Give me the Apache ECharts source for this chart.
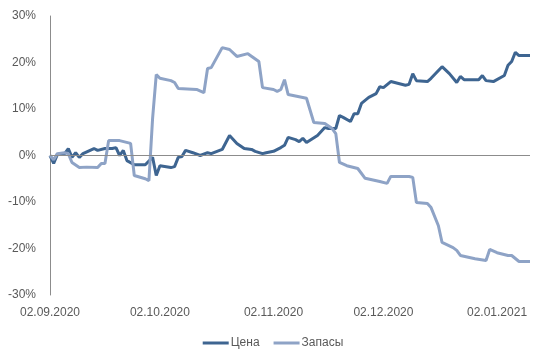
<!DOCTYPE html>
<html>
<head>
<meta charset="utf-8">
<script src="https://cdn.jsdelivr.net/npm/echarts@6/dist/echarts.min.js"></script>
<style>
html,body{margin:0;padding:0;background:#fff;}
#chart{width:546px;height:363px;}
</style>
</head>
<body>
<div id="chart"></div>
<script>
const startDate = '2020-09-02';
const endDate = '2021-01-11';
const yTicks = [-30, -20, -10, 0, 10, 20, 30];
const seriesNames = ['Цена', 'Запасы'];

const priceDates = ['2020-09-02','2020-09-03','2020-09-04','2020-09-06','2020-09-07','2020-09-08','2020-09-09','2020-09-10','2020-09-11','2020-09-14','2020-09-15','2020-09-17','2020-09-19','2020-09-20','2020-09-21','2020-09-22','2020-09-23','2020-09-25','2020-09-28','2020-09-30','2020-10-01','2020-10-02','2020-10-05','2020-10-06','2020-10-07','2020-10-08','2020-10-09','2020-10-11','2020-10-13','2020-10-15','2020-10-16','2020-10-19','2020-10-21','2020-10-23','2020-10-25','2020-10-27','2020-10-28','2020-10-30','2020-10-31','2020-11-02','2020-11-04','2020-11-05','2020-11-06','2020-11-08','2020-11-09','2020-11-10','2020-11-11','2020-11-14','2020-11-16','2020-11-17','2020-11-19','2020-11-20','2020-11-21','2020-11-23','2020-11-24','2020-11-25','2020-11-26','2020-11-28','2020-11-30','2020-12-01','2020-12-02','2020-12-04','2020-12-08','2020-12-09','2020-12-10','2020-12-11','2020-12-14','2020-12-15','2020-12-18','2020-12-20','2020-12-22','2020-12-23','2020-12-24','2020-12-28','2020-12-29','2020-12-30','2021-01-01','2021-01-04','2021-01-05','2021-01-06','2021-01-07','2021-01-08','2021-01-11'];
const priceValues = [0,-1.7,0.2,0.4,1.5,-0.4,0.6,-0.4,0.4,1.5,1.1,1.5,1.5,1.7,0,1.1,-1.1,-2.0,-2.0,-0.4,-4.3,-2.2,-2.6,-2.4,-0.4,-0.2,1.1,0.6,0,0.6,0.4,1.3,4.3,2.6,1.5,1.3,0.9,0.4,0.6,0.9,1.7,2.2,3.9,3.4,3.0,3.7,2.8,4.3,6.0,5.8,5.8,8.6,8.2,7.3,9.0,9.0,11.2,12.5,13.3,14.8,14.6,15.9,15.1,15.3,17.6,16.1,15.9,16.6,19.1,17.6,15.7,17.0,16.3,16.3,17.2,16.1,15.9,17.2,19.4,20.2,22.2,21.5,21.5];

const stockDates = ['2020-09-02','2020-09-03','2020-09-04','2020-09-06','2020-09-07','2020-09-08','2020-09-10','2020-09-12','2020-09-15','2020-09-16','2020-09-17','2020-09-18','2020-09-21','2020-09-24','2020-09-25','2020-09-28','2020-09-29','2020-09-30','2020-10-01','2020-10-02','2020-10-05','2020-10-06','2020-10-07','2020-10-12','2020-10-14','2020-10-15','2020-10-16','2020-10-19','2020-10-21','2020-10-23','2020-10-26','2020-10-29','2020-10-30','2020-11-02','2020-11-03','2020-11-04','2020-11-05','2020-11-06','2020-11-11','2020-11-13','2020-11-16','2020-11-18','2020-11-19','2020-11-20','2020-11-22','2020-11-25','2020-11-27','2020-12-01','2020-12-03','2020-12-04','2020-12-09','2020-12-10','2020-12-11','2020-12-14','2020-12-15','2020-12-17','2020-12-18','2020-12-21','2020-12-22','2020-12-23','2020-12-27','2020-12-30','2020-12-31','2021-01-02','2021-01-05','2021-01-06','2021-01-08','2021-01-11'];
const stockValues = [0,-0.9,0.4,0.6,0.4,-1.5,-2.6,-2.5,-2.6,-1.7,-1.7,3.2,3.2,2.6,-4.3,-5.0,-5.4,8.0,17.4,16.6,16.1,15.7,14.4,14.2,13.5,18.7,18.9,23.2,22.8,21.3,21.9,20.2,14.6,14.2,13.8,14.2,16.3,13.1,12.3,7.1,6.9,5.8,4.7,-1.5,-2.2,-2.8,-4.9,-5.6,-6.0,-4.5,-4.5,-4.7,-10.1,-10.3,-11.2,-15.1,-18.7,-19.8,-20.4,-21.5,-22.2,-22.6,-20.2,-20.9,-21.5,-21.5,-22.8,-22.8];

// daily category axis
function iso(d){
  const y=d.getUTCFullYear(), m=String(d.getUTCMonth()+1).padStart(2,'0'), dd=String(d.getUTCDate()).padStart(2,'0');
  return y+'-'+m+'-'+dd;
}
const categories = [];
for (let d = new Date(startDate+'T00:00:00Z'); iso(d) <= endDate; d.setUTCDate(d.getUTCDate()+1)) {
  categories.push(iso(d));
}
function toSeries(dates, values){
  const map = {};
  dates.forEach((dt,i)=>{ map[dt]=values[i]; });
  return categories.map(c => (c in map) ? map[c] : null);
}
function fmtDate(s){
  const p = s.split('-');
  return p[2]+'.'+p[1]+'.'+p[0];
}

const textColor = '#595959';
const font = 'Liberation Sans';
const chart = echarts.init(document.getElementById('chart'));
chart.setOption({
  animation: false,
  backgroundColor: '#ffffff',
  grid: {left: 50, right: 16, top: 16, bottom: 68, containLabel: false},
  legend: {
    data: seriesNames,
    bottom: 9,
    left: 'center',
    icon: 'rect',
    itemWidth: 26,
    itemHeight: 3,
    itemGap: 14,
    textStyle: {color: textColor, fontSize: 12, fontFamily: font, padding: [0,0,0,-3]}
  },
  xAxis: {
    type: 'category',
    data: categories,
    boundaryGap: false,
    axisLine: {show: false},
    axisTick: {show: false},
    splitLine: {show: false},
    axisLabel: {
      color: textColor, fontSize: 12, fontFamily: font, margin: 12,
      interval: function(idx, val){ return val.slice(8) === '02'; },
      formatter: fmtDate
    }
  },
  yAxis: {
    type: 'value',
    min: yTicks[0], max: yTicks[yTicks.length-1], interval: 10,
    axisLine: {show: true, lineStyle: {color: '#8c8c8c', width: 1}},
    axisTick: {show: false},
    splitLine: {show: false},
    axisLabel: {color: textColor, fontSize: 12, fontFamily: font, margin: 14, formatter: '{value}%'}
  },
  series: [
    {
      name: seriesNames[0], type: 'line', data: toSeries(priceDates, priceValues),
      connectNulls: true, showSymbol: false, symbol: 'none',
      lineStyle: {color: '#3e6591', width: 3}, itemStyle: {color: '#3e6591'},
      markLine: {
        silent: true, symbol: 'none', label: {show: false},
        lineStyle: {color: '#8c8c8c', width: 1, type: 'solid'},
        data: [{yAxis: 0}]
      }
    },
    {
      name: seriesNames[1], type: 'line', data: toSeries(stockDates, stockValues),
      connectNulls: true, showSymbol: false, symbol: 'none',
      lineStyle: {color: '#8ea3c6', width: 3}, itemStyle: {color: '#8ea3c6'}
    }
  ]
});
</script>
</body>
</html>
